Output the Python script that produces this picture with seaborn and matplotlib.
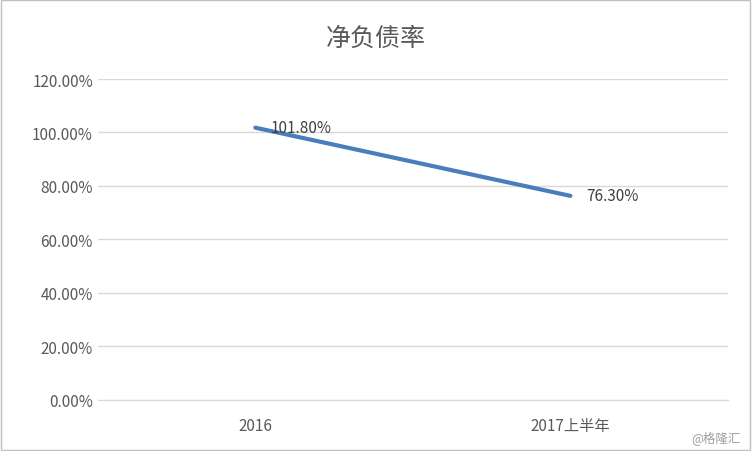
import matplotlib
matplotlib.use('Agg')
import matplotlib.pyplot as plt
import seaborn as sns
import pandas as pd

categories = ['2016', '2017上半年']
values = [101.8, 76.3]
labels = ['101.80%', '76.30%']

sns.set_style('white')
plt.rcParams['font.family'] = ['Noto Sans CJK SC', 'DejaVu Sans']

df = pd.DataFrame({'period': categories, 'ratio': values})

fig = plt.figure(figsize=(7.52, 4.52), dpi=100)
ax = fig.add_axes([0.130, 0.113, 0.838, 0.710])
sns.lineplot(data=df, x='period', y='ratio', ax=ax, color='#4a7ebb', linewidth=3, sort=False)

for i, (v, t) in enumerate(zip(values, labels)):
    ax.text(i + 0.05, v, t, fontsize=11, color='#404040', va='center', ha='left')

ax.set_xlim(-0.5, 1.5)
ax.set_ylim(0, 120)
ax.set_yticks(range(0, 121, 20))
ax.set_yticklabels([f'{t:.2f}%' for t in range(0, 121, 20)])
ax.yaxis.grid(True, color='#d9d9d9', linewidth=1)
ax.set_xlabel('')
ax.set_ylabel('')
ax.tick_params(axis='both', labelsize=11, colors='#595959', length=0)
ax.tick_params(axis='x', pad=12)
for s in ['top', 'right', 'left']:
    ax.spines[s].set_visible(False)
ax.spines['bottom'].set_color('#d9d9d9')

fig.text(0.5, 0.915, '净负债率', ha='center', va='center', fontsize=18, color='#595959')
fig.text(0.985, 0.03, '@格隆汇', ha='right', va='center', fontsize=9, color='#a0a0a0')
fig.patches.append(plt.Rectangle((0.001, 0.002), 0.997, 0.995, transform=fig.transFigure,
                                 fill=False, edgecolor='#bfbfbf', linewidth=1))

fig.savefig('out.png', dpi=100)
